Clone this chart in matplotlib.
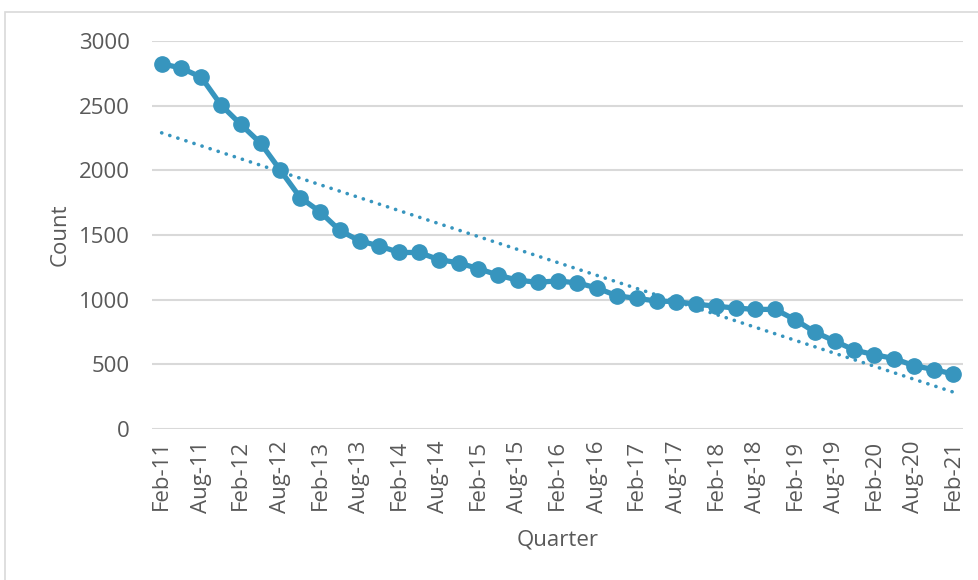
import matplotlib
import matplotlib.pyplot as plt
import pandas as pd
from matplotlib.patches import Rectangle

matplotlib.use("Agg")

# quarterly counts, Feb-2011 .. Feb-2021
quarters = pd.date_range("2011-02-01", "2021-02-01", freq="3MS").strftime("%b-%y").tolist()
counts = [
    2825, 2790, 2720, 2505, 2355, 2210, 2000, 1790, 1680, 1535,
    1455, 1415, 1365, 1365, 1310, 1285, 1240, 1190, 1150, 1135,
    1145, 1130, 1090, 1030, 1010, 990, 985, 965, 950, 935,
    925, 925, 845, 750, 680, 610, 575, 545, 490, 460,
    425,
]
# linear trendline value at the first and last quarter
trend_ends = [2290, 285]

blue = "#3795BE"
grey_text = "#595959"
plt.rcParams["font.family"] = ["Open Sans", "DejaVu Sans"]

fig = plt.figure(figsize=(9.79, 5.8), dpi=100, facecolor="white")
ax = fig.add_axes([0.155, 0.2603, 0.829, 0.6690])

x = list(range(len(counts)))
ax.plot(x, counts, color=blue, linewidth=3.8, marker="o", markersize=11,
        solid_joinstyle="round", zorder=3)
ax.plot([x[0], x[-1]], trend_ends, color=blue, linewidth=2.6,
        linestyle=(0, (0.05, 2.3)), dash_capstyle="round", zorder=2)

ax.set_xlim(-0.5, len(counts) - 0.5)
ax.set_ylim(0, 3000)
ax.set_yticks(range(0, 3001, 500))
ax.set_xticks(x[::2])
ax.set_xticklabels(quarters[::2], rotation=90)
ax.tick_params(axis="both", length=0, colors=grey_text, labelsize=16)
ax.tick_params(axis="y", pad=16)
ax.tick_params(axis="x", pad=8)
ax.grid(axis="y", color="#d9d9d9", linewidth=1.5)
ax.set_axisbelow(True)
for spine in ax.spines.values():
    spine.set_visible(False)

ax.set_ylabel("Count", color=grey_text, fontsize=16, labelpad=6)
ax.set_xlabel("Quarter", color=grey_text, fontsize=16, labelpad=12)

# chart frame
fig.patches.append(Rectangle((0.005, -0.02), 1.1, 1.0, transform=fig.transFigure,
                             fill=False, edgecolor="#d9d9d9", linewidth=1.2))

fig.savefig("out.png", dpi=100, facecolor="white")
